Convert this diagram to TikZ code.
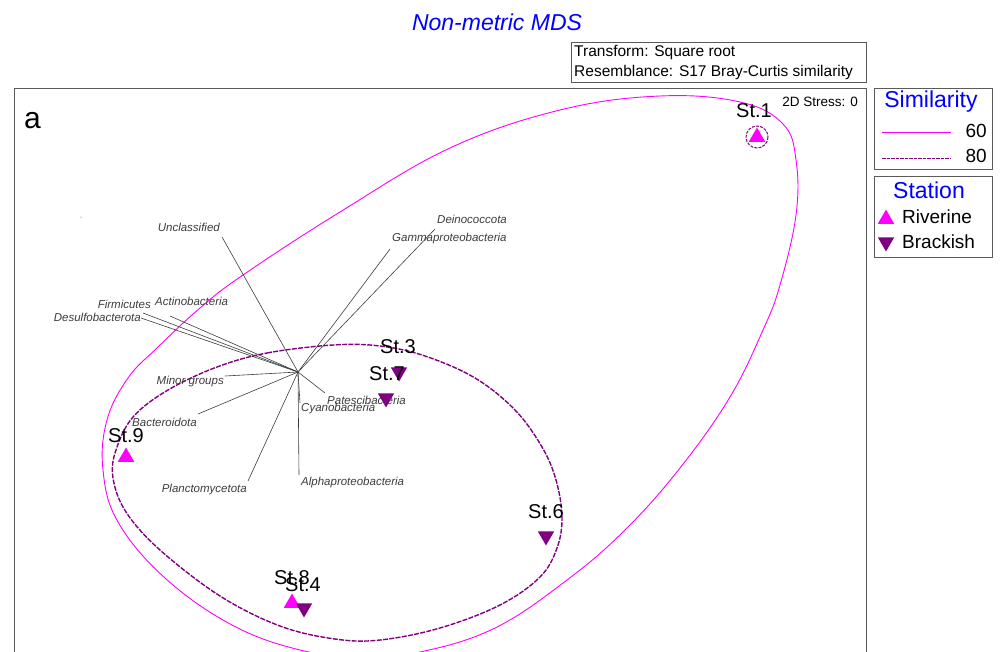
\documentclass[tikz,border=0pt]{standalone}
\usepackage{fontspec}
\setmainfont{Liberation Sans}
\usetikzlibrary{shapes.geometric}
\definecolor{mag}{RGB}{255,0,255}
\definecolor{pur}{RGB}{128,0,128}
\definecolor{frm}{RGB}{90,90,90}
\definecolor{vec}{RGB}{60,60,60}
\definecolor{ttl}{RGB}{0,0,255}
\begin{document}
\begin{tikzpicture}[x=1pt,y=-1pt,
  txt/.style={inner sep=0pt, font=\fontsize{#1}{#1}\selectfont},
  taxon/.style={inner sep=0pt, text=vec, font=\fontsize{11.5}{12}\selectfont\itshape},
  stlab/.style={inner sep=0pt, font=\fontsize{20}{20}\selectfont},
  vecline/.style={draw=vec, line width=0.6pt},
  triup/.style={regular polygon, regular polygon sides=3, minimum size=19pt, inner sep=0pt, fill=mag},
  tridown/.style={regular polygon, regular polygon sides=3, minimum size=19pt, inner sep=0pt, fill=pur, shape border rotate=180},
  sim60/.style={draw=mag, line width=0.9pt},
  sim80/.style={draw=pur, line width=1.4pt, dash pattern=on 5pt off 1.3pt},
  boxframe/.style={draw=frm, line width=0.9pt}]
\useasboundingbox (0,0) rectangle (1000,651);
\clip (0,0) rectangle (1000,651);

% title
\node[txt=23, text=ttl, font=\fontsize{23}{23}\selectfont\itshape] (title) at (497,22) {Non-metric MDS};

% transform box
\draw[boxframe] (571,42) rectangle (866,82);
\node[txt=15.5, anchor=west] (tr1) at (574,52) {Transform: Square root};
\node[txt=15.5, anchor=west] (tr2) at (574,72) {Resemblance: S17 Bray-Curtis similarity};

% main frame
\draw[boxframe] (14,88) rectangle (866,700);
\node[txt=30, anchor=west] (alab) at (24,121) {a};
\node[txt=13.5, anchor=east] (stress) at (858,102) {2D Stress: 0};

% similarity contours
\draw[sim60] plot[smooth cycle, tension=0.65] coordinates {
 (450,148) (560,110) (660,96) (740,102) (783,124) (796,160) (796,215) (780,285)
 (763,330) (730,397) (680,468) (625,530) (567,580) (495,628) (420,652) (360,657)
 (300,650) (232,625) (165,578) (118,522) (103,470) (107,420) (128,378) (157,348)
 (200,308) (243,275) (340,212)};
\draw[sim80] plot[smooth cycle, tension=0.6] coordinates {
 (217,367) (267,353) (333,345) (380,346) (425,356) (475,378) (515,410) (542,447)
 (556,480) (562,517) (557,548) (540,577) (500,605) (440,628) (380,640) (335,639)
 (280,626) (220,596) (160,550) (126,512) (113,478) (116,450) (133,417) (168,390)};

% St.1 circle
\draw[pur, line width=1pt, dash pattern=on 3pt off 1.2pt] (757,137) circle (11);

% vectors
\coordinate (c) at (298,372);
\coordinate (eUnc) at (222,237);
\coordinate (eDei) at (435,229);
\coordinate (eGam) at (390,249);
\coordinate (eFir) at (143,313);
\coordinate (eDes) at (141,318);
\coordinate (eAct) at (170,316);
\coordinate (eMin) at (225,376);
\coordinate (eBac) at (198,414);
\coordinate (ePla) at (248,481);
\coordinate (eAlp) at (299,475);
\coordinate (eCya) at (300,403);
\coordinate (ePat) at (325,393);
\foreach \e in {eUnc,eDei,eGam,eFir,eDes,eAct,eMin,eBac,ePla,eAlp,eCya,ePat}
  \draw[vecline] (c) -- (\e);

\node[taxon, anchor=east] (unc) at (220,227) {Unclassified};
\node[taxon, anchor=west] (dei) at (437,219) {Deinococcota};
\node[taxon, anchor=west] (gam) at (392,239) {Gammaproteobacteria};
\node[taxon, anchor=east] (fir) at (151,304) {Firmicutes};
\node[taxon, anchor=east] (des) at (141,317) {Desulfobacterota};
\node[taxon, anchor=west] (act) at (155,301) {Actinobacteria};
\node[taxon, anchor=east] (min) at (224,382) {Minor groups};
\node[taxon, anchor=east] (bac) at (197,422) {Bacteroidota};
\node[taxon, anchor=east] (pla) at (247,490) {Planctomycetota};
\node[taxon, anchor=west] (alp) at (301,483) {Alphaproteobacteria};
\node[taxon, anchor=west] (cya) at (301,409) {Cyanobacteria};
\node[taxon, anchor=west] (pat) at (327,400) {Patescibacteria};

\fill[vec] (81,217) circle (0.5);

% stations
\node[triup] (s1) at (757,137) {};
\node[tridown] (s3) at (399,372) {};
\node[tridown] (s7) at (386,398) {};
\node[triup] (s9) at (126,457) {};
\node[tridown] (s6) at (546,536) {};
\node[triup] (s8) at (292,603) {};
\node[tridown] (s4) at (304,608) {};

\node[stlab] (l1) at (754,111) {St.1};
\node[stlab] (l3) at (398,347) {St.3};
\node[stlab] (l7) at (387,374) {St.7};
\node[stlab] (l9) at (126,436) {St.9};
\node[stlab] (l6) at (546,512) {St.6};
\node[stlab] (l8) at (292,578) {St.8};
\node[stlab] (l4) at (303,585) {St.4};

% legend: similarity
\draw[boxframe] (874,88) rectangle (992,169);
\node[txt=23, text=ttl] (simt) at (931,102) {Similarity};
\coordinate (s60a) at (882,132); \coordinate (s60b) at (951,132);
\coordinate (s80a) at (882,158); \coordinate (s80b) at (951,158);
\draw[sim60] (s60a) -- (s60b);
\draw[sim80, line width=1pt, dash pattern=on 3.5pt off 1pt] (s80a) -- (s80b);
\node[txt=19, anchor=east] (t60) at (987,131) {60};
\node[txt=19, anchor=east] (t80) at (987,156) {80};

% legend: station
\draw[boxframe] (874,176) rectangle (992,257);
\node[txt=23, text=ttl] (stt) at (929,190) {Station};
\node[triup] (lr) at (886,219) {};
\node[tridown] (lb) at (886,242) {};
\node[txt=19, anchor=west] (triv) at (902,217) {Riverine};
\node[txt=19, anchor=west] (tbra) at (902,242) {Brackish};
\end{tikzpicture}
\end{document}
